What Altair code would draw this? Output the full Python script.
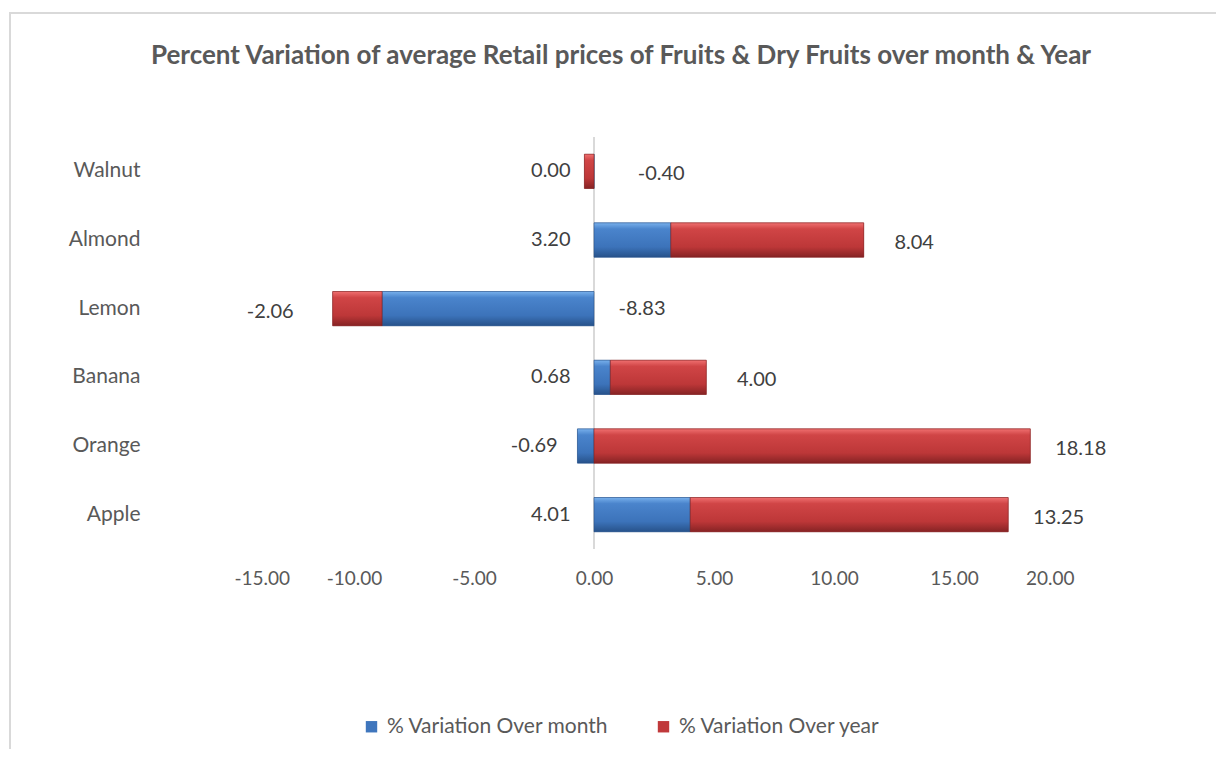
import altair as alt
import pandas as pd

items = ["Walnut", "Almond", "Lemon", "Banana", "Orange", "Apple"]
series = ["% Variation Over month", "% Variation Over year"]
month_vals = [0.00, 3.20, -8.83, 0.68, -0.69, 4.01]
year_vals = [-0.40, 8.04, -2.06, 4.00, 18.18, 13.25]
x_ticks = [-15, -10, -5, 0, 5, 10, 15, 20]

rows = []
for i, it in enumerate(items):
    rows.append({"item": it, "series": series[0], "value": month_vals[i], "ord": 0})
    rows.append({"item": it, "series": series[1], "value": year_vals[i], "ord": 1})
df = pd.DataFrame(rows)

FONT = "Lato"
GRAY = "#595959"
BLUE = "#3f76bd"
RED = "#c0393b"

blue_grad = alt.Gradient(
    gradient="linear", x1=0, x2=0, y1=0, y2=1,
    stops=[alt.GradientStop(color="#78b0ec", offset=0),
           alt.GradientStop(color="#4a84cc", offset=0.18),
           alt.GradientStop(color="#3c73ba", offset=0.7),
           alt.GradientStop(color="#27528a", offset=1)])
red_grad = alt.Gradient(
    gradient="linear", x1=0, x2=0, y1=0, y2=1,
    stops=[alt.GradientStop(color="#f07070", offset=0),
           alt.GradientStop(color="#d04546", offset=0.18),
           alt.GradientStop(color="#bd3738", offset=0.7),
           alt.GradientStop(color="#862324", offset=1)])

base = alt.Chart(df).transform_stack(
    stack="value", groupby=["item"], as_=["x0", "x1"],
    sort=[alt.SortField("ord", order="ascending")]
)

yenc = alt.Y("item:N", sort=items, title=None,
             scale=alt.Scale(paddingInner=0.5, paddingOuter=0.25),
             axis=alt.Axis(domain=False, ticks=False, labelFontSize=21,
                           labelFont=FONT, labelColor=GRAY, labelPadding=94))
xenc = alt.X("x0:Q", title=None,
             scale=alt.Scale(domain=[-15, 20], nice=False, zero=False),
             axis=alt.Axis(values=x_ticks, grid=False, domain=False,
                           labelExpr="replace(format(datum.value, '.2f'), '\u2212', '-')",
                           ticks=False, labelFontSize=19, labelFont=FONT,
                           labelColor=GRAY, labelPadding=20))

flat = base.mark_bar().encode(
    x=xenc, x2="x1:Q", y=yenc,
    color=alt.Color("series:N", sort=series,
                    scale=alt.Scale(domain=series, range=[BLUE, RED]),
                    legend=alt.Legend(orient="none", legendX=127, legendY=579,
                                      direction="horizontal", title=None,
                                      symbolType="square", symbolSize=130,
                                      symbolStrokeWidth=0, labelFontSize=21,
                                      labelFont=FONT, labelColor=GRAY,
                                      labelLimit=400,
                                      columnPadding=44, labelOffset=5)),
)

blue_bars = base.transform_filter(alt.datum.ord == 0).mark_bar(
    fill=blue_grad, stroke="#2a5288", strokeWidth=0.6).encode(
    x=alt.X("x0:Q"), x2="x1:Q", y=alt.Y("item:N", sort=items))
red_bars = base.transform_filter(alt.datum.ord == 1).mark_bar(
    fill=red_grad, stroke="#7e2122", strokeWidth=0.6).encode(
    x=alt.X("x0:Q"), x2="x1:Q", y=alt.Y("item:N", sort=items))

month_lbl = base.transform_filter(alt.datum.ord == 0).transform_calculate(
    lx="datum.value < -2 ? 2.0 : min(0, datum.value) - 1.8",
    txt="replace(format(datum.value, '.2f'), '\u2212', '-')",
).mark_text(fontSize=20, font=FONT, color="#404040", align="center",
            baseline="middle").encode(
    x=alt.X("lx:Q"), y=alt.Y("item:N", sort=items), text="txt:N")

year_lbl = base.transform_filter(alt.datum.ord == 1).transform_calculate(
    lx="datum.x1 < -2 ? datum.x1 - 2.6 : (datum.value < 0 ? 2.8 : max(datum.x1, 0) + 2.1)",
    txt="replace(format(datum.value, '.2f'), '\u2212', '-')",
).mark_text(fontSize=20, font=FONT, color="#404040", align="center",
            baseline="middle", dy=3).encode(
    x=alt.X("lx:Q"), y=alt.Y("item:N", sort=items), text="txt:N")

zero_line = alt.Chart(pd.DataFrame({"z": [0]})).mark_rule(
    color="#d9d9d9", strokeWidth=2).encode(x=alt.X("z:Q"))

one = alt.Data(values=[{}])
title_txt = alt.Chart(one).mark_text(
    text="Percent Variation of average Retail prices of Fruits & Dry Fruits over month & Year",
    fontSize=26, font=FONT, fontWeight="bold", color=GRAY,
    align="center", baseline="alphabetic").encode(
    x=alt.value(387), y=alt.value(-73))

border = alt.Chart(one).mark_rect(
    fill=None, stroke="#d9d9d9", strokeWidth=2).encode(
    x=alt.value(-224), x2=alt.value(1200), y=alt.value(-124), y2=alt.value(900))

chart = alt.layer(
    border, zero_line, flat, blue_bars, red_bars, month_lbl, year_lbl, title_txt
).properties(
    width=840, height=412,
    autosize=alt.AutoSizeParams(type="none"),
    padding={"left": 226, "top": 129, "right": 142, "bottom": 200},
    background="white",
).configure_view(stroke=None)

chart.save("out.html", embed_options={"renderer": "svg", "actions": False})
